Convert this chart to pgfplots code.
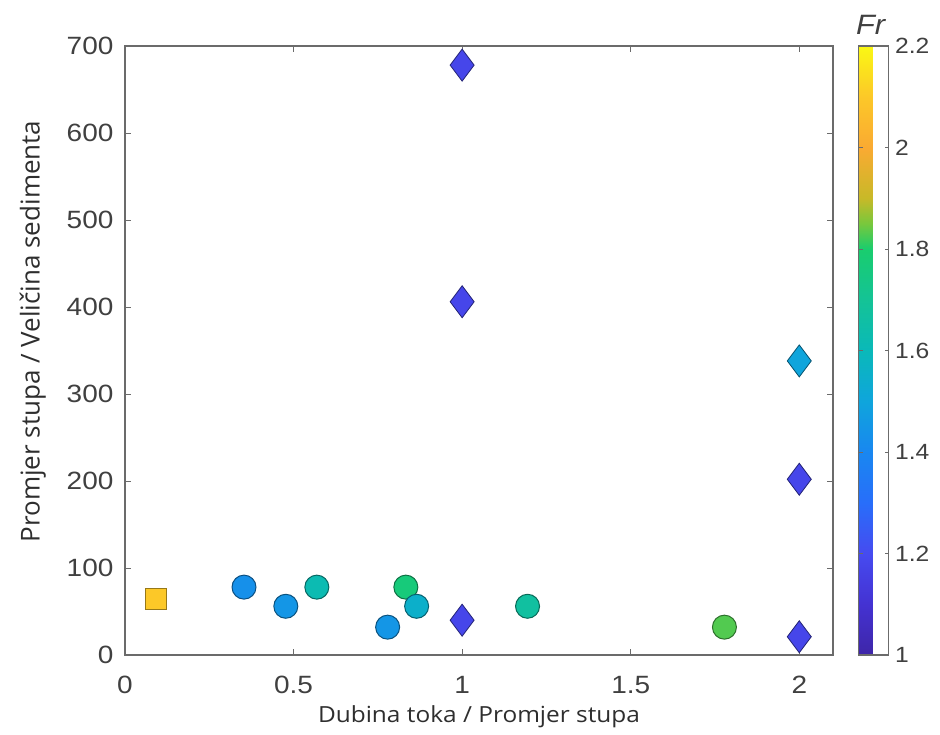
\documentclass[border=0pt]{standalone}
\usepackage{pgfplots}
\pgfplotsset{compat=1.18}
\usepackage{fontspec}
\setmainfont{Open Sans}
\newfontfamily\ticksfont[FakeStretch=1.12]{Liberation Sans}
\newfontfamily\labfont[FakeStretch=1.1]{Open Sans}
\newfontfamily\titfont[FakeStretch=1.1]{Liberation Sans}
\definecolor{axgray}{rgb}{0.42,0.42,0.42}
\definecolor{tkgray}{rgb}{0.25,0.25,0.25}
\definecolor{lbgray}{rgb}{0.18,0.18,0.18}
\begin{document}
\begin{tikzpicture}
\begin{axis}[
  name=main,
  scale only axis,
  width=708pt, height=609pt,
  xmin=0, xmax=2.1, ymin=0, ymax=700,
  xtick={0,0.5,1,1.5,2},
  xticklabels={0,0.5,1,1.5,2},
  ytick={0,100,...,700},
  tick align=inside,
  major tick length=6pt,
  axis line style={axgray, line width=1.1pt},
  every tick/.style={axgray, line width=0.9pt},
  /pgf/number format/assume math mode=true,
  ticklabel style={font=\ticksfont\fontsize{25}{28}\selectfont, text=tkgray},
  yticklabel style={xshift=-8pt},
  xticklabel style={yshift=-18pt},
  xlabel={Dubina toka / Promjer stupa},
  ylabel={Promjer stupa / Veličina sedimenta},
  xlabel style={font=\labfont\fontsize{22.2}{25}\selectfont, text=lbgray, yshift=-5pt},
  ylabel style={font=\fontsize{26}{30}\selectfont, text=lbgray, yshift=14pt, xshift=19pt},
  point meta min=1, point meta max=2.2,
  colormap={frmap}{
    rgb255(0cm)=(62,38,168);
    rgb255(1cm)=(68,50,210);
    rgb255(2cm)=(70,75,240);
    rgb255(3cm)=(40,110,250);
    rgb255(4cm)=(25,135,240);
    rgb255(5cm)=(15,165,220);
    rgb255(6cm)=(10,185,185);
    rgb255(7cm)=(20,195,150);
    rgb255(8cm)=(25,205,110);
    rgb255(8.5cm)=(120,200,60);
    rgb255(9cm)=(200,185,40);
    rgb255(10cm)=(250,170,50);
    rgb255(11cm)=(252,200,40);
    rgb255(12cm)=(250,248,20)
  },
  colorbar,
  colorbar style={
    width=30pt,
    at={(parent axis.north east)}, anchor=north west, xshift=17pt,
    ytick={1,1.2,1.4,1.6,1.8,2,2.2},
    yticklabels={1,1.2,1.4,1.6,1.8,2,2.2},
    tick align=inside,
    major tick length=4pt,
    axis line style={axgray, line width=1.1pt},
    every tick/.style={axgray, line width=0.9pt},
    /pgf/number format/assume math mode=true,
    yticklabel style={font=\ticksfont\fontsize{22}{26}\selectfont, text=tkgray, xshift=3pt},
    title={\titfont\itshape Fr},
    title style={font=\fontsize{28}{30}\selectfont, text=tkgray, yshift=2pt, xshift=-3pt},
  },
]
% square
\addplot[scatter, only marks, scatter src=explicit,
  mark=square*, mark size=10.5pt,
  scatter/use mapped color={draw=mapped color!60!black, fill=mapped color},
  every mark/.append style={line width=0.8pt}]
  table[meta=fr] {
x y fr
0.092 65 2.1
};
% circles
\addplot[scatter, only marks, scatter src=explicit,
  mark=*, mark size=12pt,
  scatter/use mapped color={draw=mapped color!55!black, fill=mapped color},
  every mark/.append style={line width=1pt}]
  table[meta=fr] {
x y fr
0.353 78 1.43
0.477 56 1.45
0.569 78 1.62
0.779 32 1.45
0.833 78 1.77
0.865 56 1.55
1.194 56 1.67
1.778 32 1.83
};
% diamonds
\addplot[scatter, only marks, scatter src=explicit,
  mark=diamond*, mark size=16pt,
  scatter/use mapped color={draw=mapped color!50!black, fill=mapped color},
  every mark/.append style={line width=0.8pt}]
  table[meta=fr] {
x y fr
1 678 1.18
1 406 1.18
1 40 1.18
2 338 1.5
2 202 1.18
2 21 1.18
};
\end{axis}
\pgfresetboundingbox
\path ([shift={(-125pt,-80pt)}]main.south west) rectangle ([shift={(107pt,46pt)}]main.north east);
\end{tikzpicture}
\end{document}
